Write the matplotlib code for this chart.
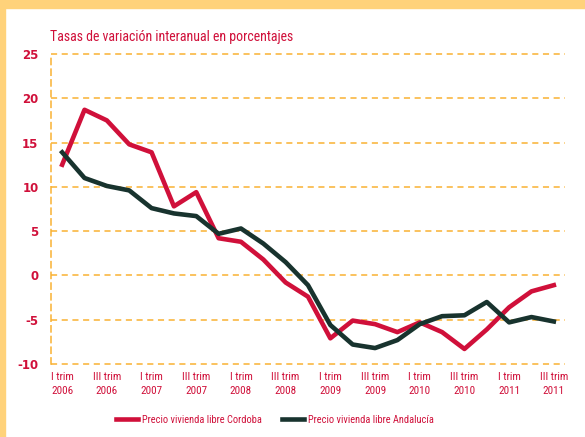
import matplotlib
matplotlib.use("Agg")
import matplotlib.pyplot as plt
from matplotlib.patches import Rectangle

plt.rcParams["axes.unicode_minus"] = False

# trimestres I-2006 .. III-2011
quarters = ["I", "II", "III", "IV"] * 5 + ["I", "II", "III"]
years = [y for y in range(2006, 2011) for _ in range(4)] + [2011] * 3

cordoba = [12.5, 18.7, 17.5, 14.8, 13.9, 7.8, 9.4, 4.2, 3.8, 1.8, -0.8, -2.4,
           -7.1, -5.1, -5.5, -6.4, -5.3, -6.4, -8.3, -6.1, -3.6, -1.8, -1.1]
andalucia = [13.9, 11.0, 10.1, 9.6, 7.6, 7.0, 6.7, 4.7, 5.3, 3.6, 1.5, -1.1,
             -5.6, -7.8, -8.2, -7.3, -5.5, -4.6, -4.5, -3.0, -5.3, -4.7, -5.2]

red = "#D0103A"
green = "#18332E"
grid_c = "#F9B233"
border = "#FFD27A"
narrow = ["Roboto Condensed", "Liberation Sans", "DejaVu Sans"]

fig = plt.figure(figsize=(5.85, 4.37), dpi=100)
fig.patches.append(Rectangle((0, 1 - 8 / 437), 1, 8 / 437, transform=fig.transFigure,
                             color=border, zorder=0))
fig.patches.append(Rectangle((0, 0), 5 / 585, 1, transform=fig.transFigure,
                             color=border, zorder=0))

ax = fig.add_axes([51 / 585, 1 - 364 / 437, 514 / 585, 310 / 437])
x = list(range(len(cordoba)))
ax.plot(x, cordoba, color=red, lw=3.3, label="Precio vivienda libre Cordoba", zorder=3)
ax.plot(x, andalucia, color=green, lw=3.3, label="Precio vivienda libre Andalucía", zorder=3)

ax.set_xlim(-0.5, 22.5)
ax.set_ylim(-10, 25)
ax.set_yticks(range(-10, 30, 5))
for v in range(-10, 30, 5):
    ax.axhline(v, color=grid_c, lw=1.1, ls=(0, (4, 3)), zorder=1, clip_on=False)
for s in ["top", "right", "bottom"]:
    ax.spines[s].set_visible(False)
ax.spines["left"].set_color(grid_c)
ax.spines["left"].set_linestyle((0, (4, 3)))
ax.spines["left"].set_linewidth(1.1)

ticks = x[::2]
labels = [quarters[i] + " trim\n" + str(years[i]) for i in ticks]
ax.set_xticks(ticks)
ax.set_xticklabels(labels, fontsize=8, color=red, family=narrow, linespacing=1.4)
ax.tick_params(axis="x", length=0, pad=6)
ax.tick_params(axis="y", length=0, pad=9, labelsize=8.5, labelcolor=red)
for t in ax.get_yticklabels():
    t.set_fontweight("bold")
    t.set_family("DejaVu Sans")

fig.text(50 / 585, 1 - 37 / 437, "Tasas de variación interanual en porcentajes",
         color=red, fontsize=10, va="center", ha="left", family=narrow)

fig.legend(loc="center", bbox_to_anchor=(275 / 585, 1 - 420 / 437), ncol=2, frameon=False,
           prop={"family": narrow, "size": 7.5}, labelcolor=red, handlelength=2.1,
           columnspacing=2.0, handletextpad=0.4)

fig.savefig("out.png", dpi=100)
